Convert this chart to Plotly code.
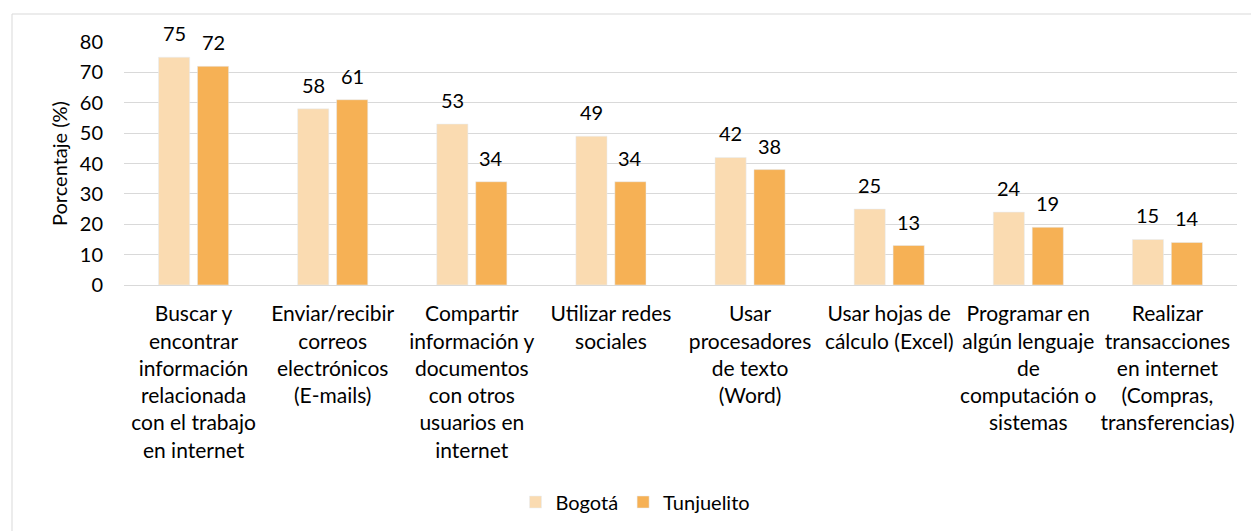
import plotly.graph_objects as go

# Uso de herramientas TIC en el trabajo: Bogotá vs. Tunjuelito
categorias = [
    "Buscar y<br>encontrar<br>información<br>relacionada<br>con el trabajo<br>en internet",
    "Enviar/recibir<br>correos<br>electrónicos<br>(E-mails)",
    "Compartir<br>información y<br>documentos<br>con otros<br>usuarios en<br>internet",
    "Utilizar redes<br>sociales",
    "Usar<br>procesadores<br>de texto<br>(Word)",
    "Usar hojas de<br>cálculo (Excel)",
    "Programar en<br>algún lenguaje<br>de<br>computación o<br>sistemas",
    "Realizar<br>transacciones<br>en internet<br>(Compras,<br>transferencias)",
]
bogota = [75, 58, 53, 49, 42, 25, 24, 15]
tunjuelito = [72, 61, 34, 34, 38, 13, 19, 14]
y_ticks = [0, 10, 20, 30, 40, 50, 60, 70, 80]

FONT = "Lato"
COLOR_BOG = "#FADBB1"
COLOR_TUN = "#F6B155"
NUM_SIZE = 20
CAT_SIZE = 21

W, H = 1251, 531
ML, MR, MT, MB = 124, 14, 42, 246

fig = go.Figure()
fig.add_trace(go.Bar(name="Bogotá", x=categorias, y=bogota, marker_color=COLOR_BOG))
fig.add_trace(go.Bar(name="Tunjuelito", x=categorias, y=tunjuelito, marker_color=COLOR_TUN))

# value labels above each bar
plot_w = W - ML - MR
plot_h = H - MT - MB
slot = plot_w / len(categorias) * (1 - 0.44) / 2
for serie, shift in ((bogota, -slot / 2), (tunjuelito, slot / 2)):
    for cat, val in zip(categorias, serie):
        fig.add_annotation(
            x=cat, y=val, text=str(val), showarrow=False,
            xshift=shift, yshift=10, yanchor="bottom",
            font=dict(family=FONT, size=NUM_SIZE, color="#000000"),
        )

# outer chart frame (left and top edges visible)
fig.add_shape(
    type="rect", xref="paper", yref="paper",
    x0=(12 - ML) / plot_w, x1=(W + 20 - ML) / plot_w,
    y0=-(MB + 20) / plot_h,
    y1=1 + (MT - 14) / plot_h,
    line=dict(color="#D9D9D9", width=1), layer="below",
)

fig.update_layout(
    width=W, height=H,
    margin=dict(l=ML, r=MR, t=MT, b=MB),
    paper_bgcolor="white", plot_bgcolor="white",
    barmode="group", bargap=0.44, bargroupgap=0.2,
    font=dict(family=FONT, size=NUM_SIZE, color="#000000"),
    showlegend=True,
    legend=dict(
        orientation="h", xref="container", yref="container",
        x=0.508, xanchor="center", y=1 - 502 / H, yanchor="middle",
        font=dict(family=FONT, size=NUM_SIZE), itemwidth=30,
    ),
)
fig.update_xaxes(
    type="category", showgrid=False, showline=False,
    ticks="outside", ticklen=10, tickcolor="rgba(0,0,0,0)",
    tickfont=dict(family=FONT, size=CAT_SIZE),
)
fig.update_yaxes(
    range=[0, 80], tickvals=y_ticks, showgrid=True, gridcolor="#D9D9D9", gridwidth=1,
    zeroline=True, zerolinecolor="#D9D9D9", zerolinewidth=1, showline=False,
    ticks="outside", ticklen=16, tickcolor="rgba(0,0,0,0)",
    tickfont=dict(family=FONT, size=NUM_SIZE),
    title=dict(text="Porcentaje (%)", font=dict(family=FONT, size=NUM_SIZE), standoff=6),
)

fig.write_html("out.html")
